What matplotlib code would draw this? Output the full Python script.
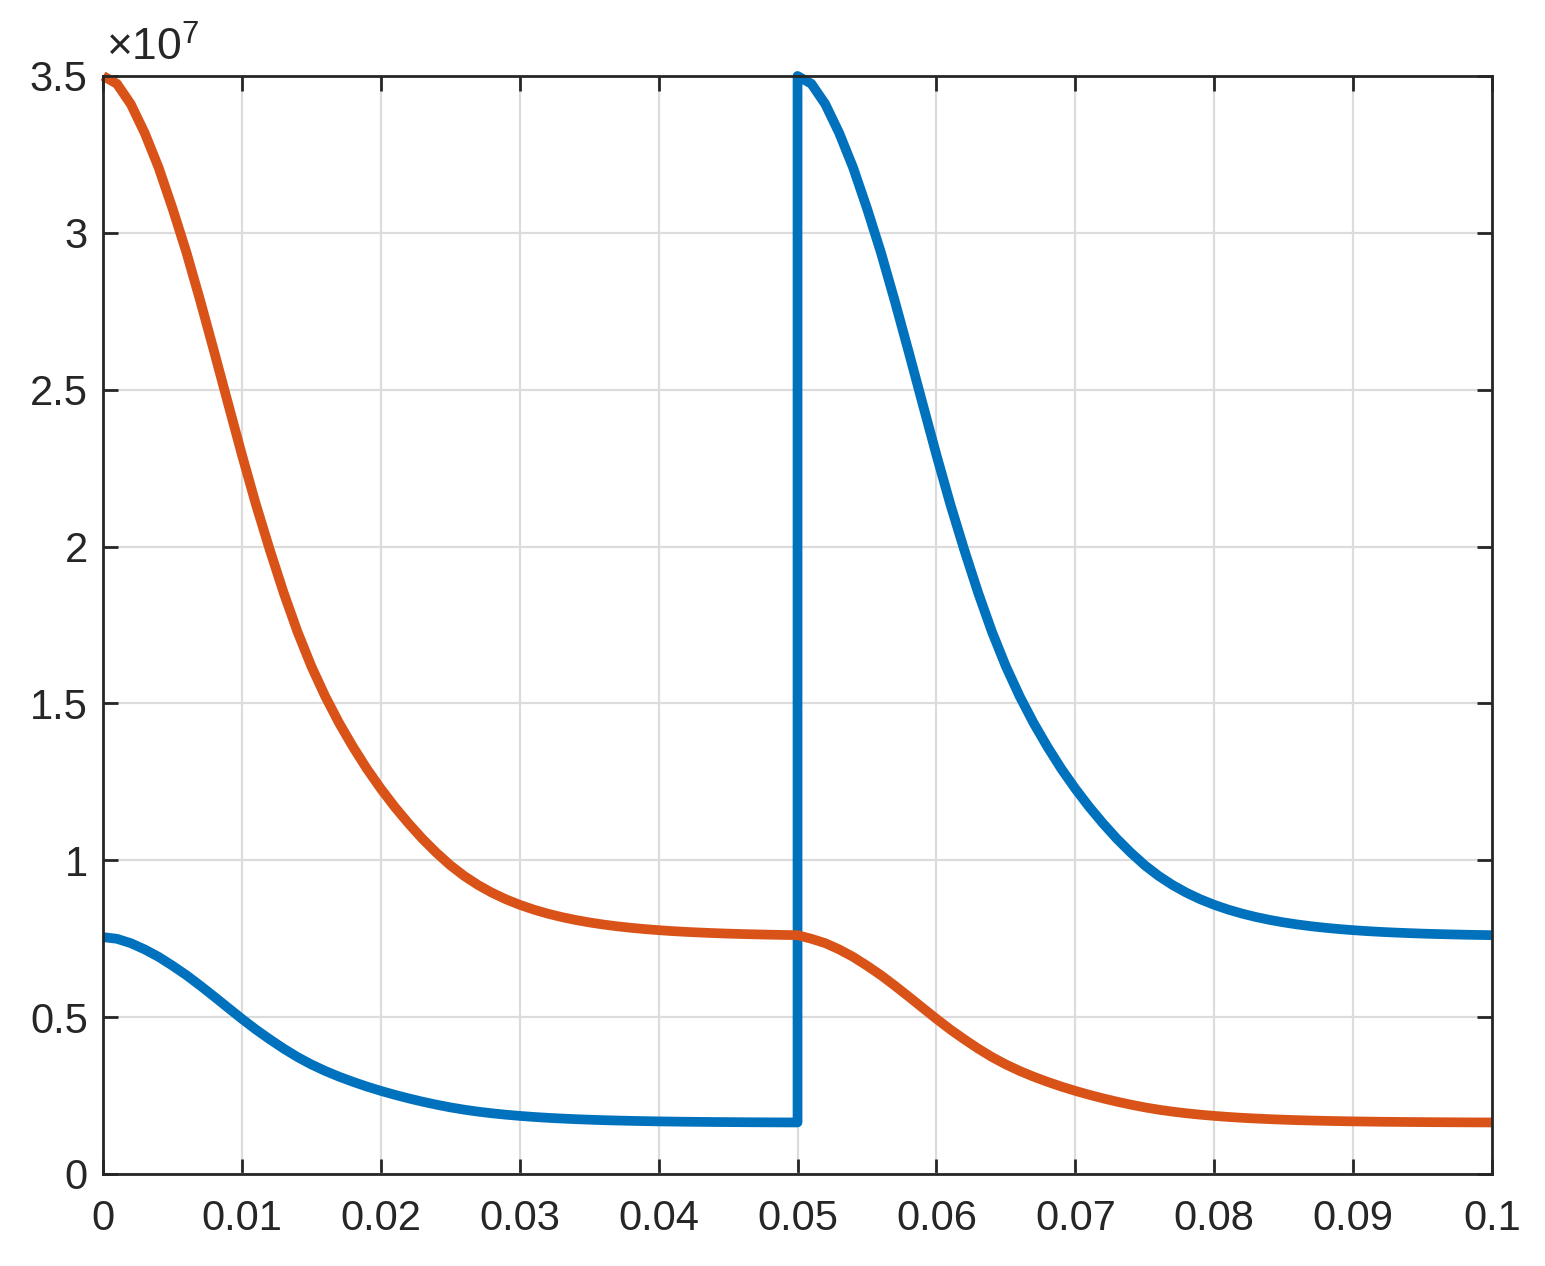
import matplotlib
matplotlib.use("Agg")
import matplotlib.pyplot as plt
from matplotlib.ticker import FuncFormatter
import numpy as np

plt.rcParams['font.family'] = ['Liberation Sans', 'DejaVu Sans']
plt.rcParams['mathtext.fontset'] = 'custom'
plt.rcParams['mathtext.rm'] = 'Liberation Sans'
plt.rcParams['mathtext.it'] = 'Liberation Sans'

SCALE = 1e7

# sample times (s): first half 0..0.05, second half 0.05..0.1, step 0.001
time_a = np.round(np.linspace(0.0, 0.05, 51), 4)
time_b = np.round(np.linspace(0.05, 0.1, 51), 4)

# values in units of 1e7
orange_a = [3.500, 3.475, 3.410, 3.318, 3.208, 3.078, 2.938, 2.783, 2.621, 2.456,
            2.292, 2.135, 1.990, 1.853, 1.728, 1.618, 1.522, 1.437, 1.361, 1.291,
            1.228, 1.170, 1.117, 1.068, 1.024, 0.984, 0.950, 0.9211, 0.8965, 0.8756,
            0.8579, 0.8428, 0.8300, 0.8191, 0.8098, 0.8019, 0.7952, 0.7895, 0.7847, 0.7806,
            0.7771, 0.7741, 0.7716, 0.7695, 0.7677, 0.7661, 0.7648, 0.7637, 0.7627, 0.7619,
            0.7612]
blue_a = [0.755, 0.7496, 0.7356, 0.7157, 0.6920, 0.6639, 0.6337, 0.6003, 0.5654, 0.5298,
          0.4944, 0.4605, 0.4293, 0.3997, 0.3727, 0.3490, 0.3283, 0.3100, 0.2936, 0.2785,
          0.2649, 0.2524, 0.2409, 0.2304, 0.2209, 0.2123, 0.2049, 0.1987, 0.1934, 0.1889,
          0.1851, 0.1818, 0.1790, 0.1767, 0.1747, 0.1730, 0.1715, 0.1703, 0.1693, 0.1684,
          0.1676, 0.1670, 0.1664, 0.1660, 0.1656, 0.1653, 0.1650, 0.1647, 0.1645, 0.1643,
          0.1642]
blue_b = [3.500, 3.475, 3.410, 3.318, 3.208, 3.078, 2.938, 2.783, 2.621, 2.456,
          2.292, 2.135, 1.990, 1.853, 1.728, 1.618, 1.522, 1.437, 1.361, 1.291,
          1.228, 1.170, 1.117, 1.068, 1.024, 0.984, 0.950, 0.9211, 0.8965, 0.8756,
          0.8579, 0.8428, 0.8300, 0.8191, 0.8098, 0.8019, 0.7952, 0.7895, 0.7847, 0.7806,
          0.7771, 0.7741, 0.7716, 0.7695, 0.7677, 0.7661, 0.7648, 0.7637, 0.7627, 0.7619,
          0.7612]
orange_b = [0.7612, 0.7496, 0.7356, 0.7157, 0.6920, 0.6639, 0.6337, 0.6003, 0.5654, 0.5298,
            0.4944, 0.4605, 0.4293, 0.3997, 0.3727, 0.3490, 0.3283, 0.3100, 0.2936, 0.2785,
            0.2649, 0.2524, 0.2409, 0.2304, 0.2209, 0.2123, 0.2049, 0.1987, 0.1934, 0.1889,
            0.1851, 0.1818, 0.1790, 0.1767, 0.1747, 0.1730, 0.1715, 0.1703, 0.1693, 0.1684,
            0.1676, 0.1670, 0.1664, 0.1660, 0.1656, 0.1653, 0.1650, 0.1647, 0.1645, 0.1643,
            0.1642]

x_ticks = [0, 0.01, 0.02, 0.03, 0.04, 0.05, 0.06, 0.07, 0.08, 0.09, 0.1]
y_ticks = [0, 0.5, 1, 1.5, 2, 2.5, 3, 3.5]

BLUE = '#0072BD'
ORANGE = '#D95319'
AX = '#262626'

fig = plt.figure(figsize=(15.45, 12.66), dpi=100)
ax = fig.add_axes([0.0667, 0.0727, 0.899, 0.8673])

t_blue = np.concatenate([time_a, time_b])
v_blue = np.array(blue_a + blue_b) * SCALE
t_or = np.concatenate([time_a, time_b[1:]])
v_or = np.array(orange_a + orange_b[1:]) * SCALE

ax.plot(t_blue, v_blue, color=BLUE, lw=7.0, solid_joinstyle='round',
        solid_capstyle='butt', zorder=3, clip_on=False)
ax.plot(t_or, v_or, color=ORANGE, lw=7.0, solid_joinstyle='round',
        solid_capstyle='butt', zorder=3, clip_on=False)

ax.set_xlim(0, 0.1)
ax.set_ylim(0, 3.5 * SCALE)
ax.set_xticks(x_ticks)
ax.set_yticks([v * SCALE for v in y_ticks])
ax.xaxis.set_major_formatter(FuncFormatter(lambda v, p: '%g' % round(v, 4)))
ax.yaxis.set_major_formatter(FuncFormatter(lambda v, p: '%g' % round(v / SCALE, 4)))

ax.grid(True, color='#dcdcdc', lw=1.6, zorder=0)
ax.set_axisbelow(True)
for s in ax.spines.values():
    s.set_color(AX)
    s.set_linewidth(2.0)
    s.set_zorder(4)
ax.tick_params(direction='in', length=11, width=2.0, color=AX,
               labelcolor=AX, labelsize=30, top=True, right=True)
ax.tick_params(axis='x', pad=18)
ax.tick_params(axis='y', pad=11)

ax.text(0.002, 1.006, r'$\times\mathregular{10^{7}}$', transform=ax.transAxes,
        ha='left', va='bottom', fontsize=32, color=AX)

fig.savefig('out.png', dpi=100, facecolor='white')
